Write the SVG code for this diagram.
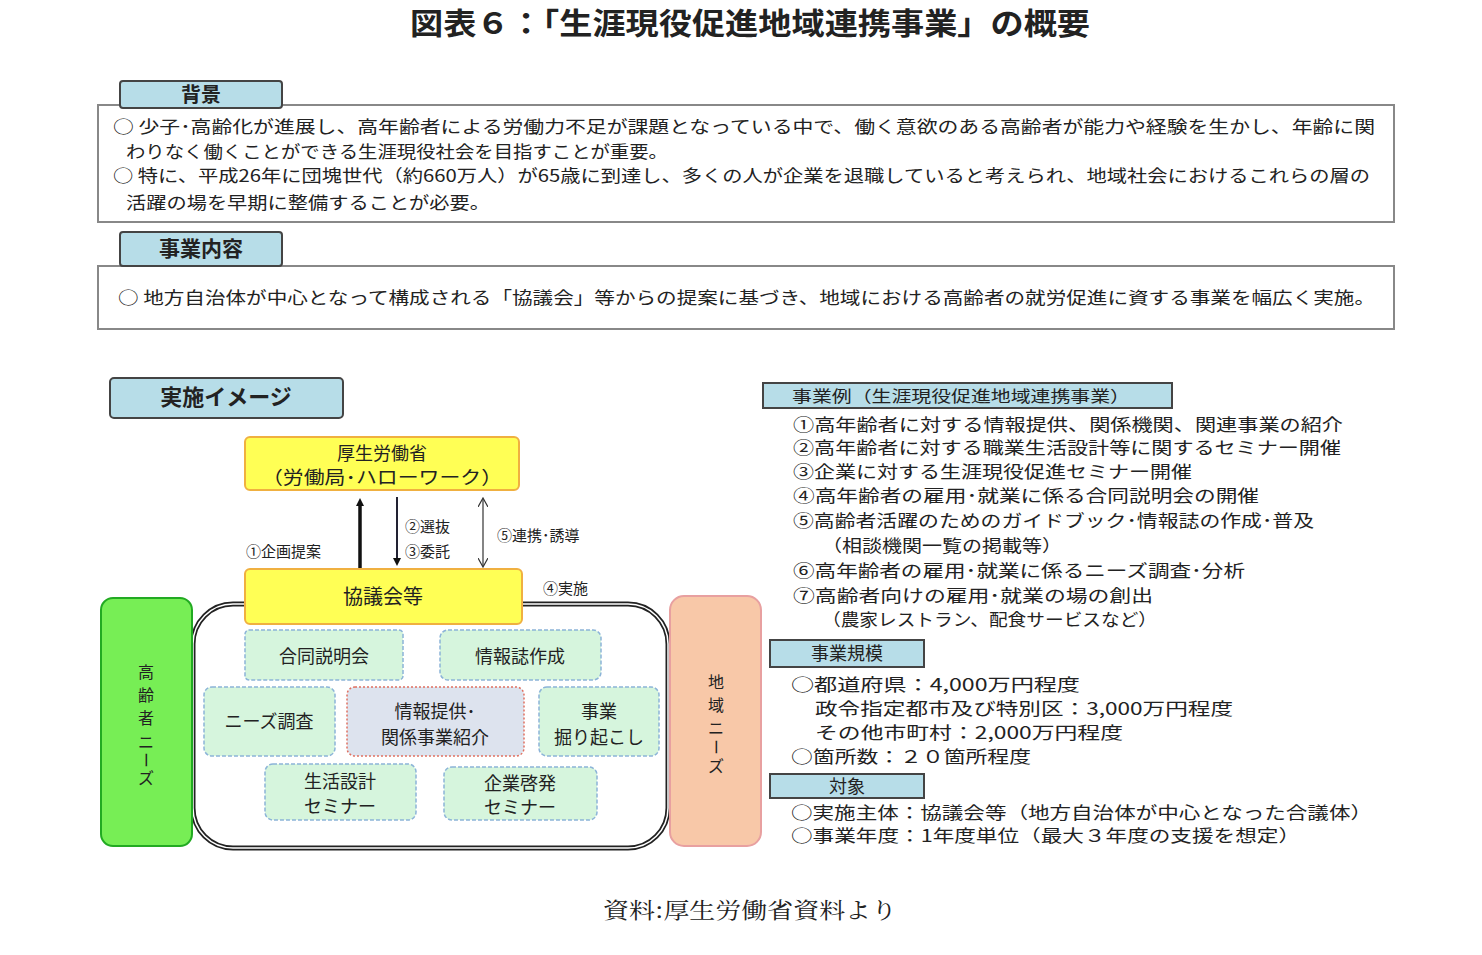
<svg xmlns="http://www.w3.org/2000/svg" width="1482" height="955" viewBox="0 0 1482 955">
<style>
text{font-family:"Noto Sans CJK JP","Liberation Sans",sans-serif;fill:#222}
.tab{fill:#b7dde8;stroke:#444;stroke-width:2}
.frame{fill:#fff;stroke:#888;stroke-width:2}
.t{font-size:17px}
.r{font-size:18px}
.q{font-size:17px}
.yel{fill:#ffff55;stroke:#f0b040;stroke-width:2}
.gb{fill:#d6f5dd;stroke:#8cb4d8;stroke-width:1.5;stroke-dasharray:4 2}
.c{text-anchor:middle}
</style>
<defs>
<marker id="ah" markerWidth="8" markerHeight="8" refX="4" refY="4" orient="auto" markerUnits="userSpaceOnUse"><path d="M0,0L8,4L0,8z" fill="#111"/></marker>
<marker id="ao" markerWidth="10" markerHeight="10" refX="8" refY="5" orient="auto-start-reverse" markerUnits="userSpaceOnUse"><path d="M0,0L9,5L0,10" fill="none" stroke="#333" stroke-width="1.2"/></marker>
</defs>
<text x="750" y="34" class="c" font-size="30" font-weight="bold" textLength="680" lengthAdjust="spacingAndGlyphs">図表６：「生涯現役促進地域連携事業」の概要</text>

<g id="bg">
<rect x="98" y="105" width="1296" height="117" class="frame"/>
<rect x="120" y="81" width="162" height="27" rx="3" class="tab"/>
<text x="201" y="102" class="c" font-size="20" font-weight="bold">背景</text>
<text x="113" y="133" class="t" textLength="1262" lengthAdjust="spacingAndGlyphs">○  少子･高齢化が進展し、高年齢者による労働力不足が課題となっている中で、働く意欲のある高齢者が能力や経験を生かし、年齢に関</text>
<text x="126" y="158" class="t" textLength="542" lengthAdjust="spacingAndGlyphs">わりなく働くことができる生涯現役社会を目指すことが重要。</text>
<text x="113" y="182" class="t" textLength="1257" lengthAdjust="spacingAndGlyphs">○  特に、平成26年に団塊世代（約660万人）が65歳に到達し、多くの人が企業を退職していると考えられ、地域社会におけるこれらの層の</text>
<text x="126" y="209" class="t" textLength="364" lengthAdjust="spacingAndGlyphs">活躍の場を早期に整備することが必要。</text>
</g>
<g id="content">
<rect x="98" y="266" width="1296" height="63" class="frame"/>
<rect x="120" y="232" width="162" height="34" rx="3" class="tab"/>
<text x="201" y="256" class="c" font-size="21" font-weight="bold">事業内容</text>
<text x="118" y="304" class="t" textLength="1257" lengthAdjust="spacingAndGlyphs">○  地方自治体が中心となって構成される「協議会」等からの提案に基づき、地域における高齢者の就労促進に資する事業を幅広く実施。</text>
</g>

<g id="image-tab">
<rect x="110" y="378" width="233" height="40" rx="4" class="tab"/>
<text x="226" y="405" class="c" font-size="22" font-weight="bold">実施イメージ</text>
</g>

<g id="kaigi-frame">
<rect x="193" y="604" width="475" height="244" rx="40" fill="#fff" stroke="#222" stroke-width="5"/>
<rect x="193" y="604" width="475" height="244" rx="40" fill="none" stroke="#fff" stroke-width="1.5"/>
</g>
<g id="mhlw">
<rect x="245" y="437" width="274" height="53" rx="5" class="yel"/>
<text x="382" y="460" class="c r">厚生労働省</text>
<text x="382" y="484" class="c r" textLength="240" lengthAdjust="spacingAndGlyphs">（労働局･ハローワーク）</text>
</g>
<g id="kyogikai">
<rect x="245" y="569" width="277" height="55" rx="5" class="yel"/>
<text x="383" y="604" class="c" font-size="20">協議会等</text>
</g>
<g id="connectors">
<line x1="360" y1="568" x2="360" y2="502" stroke="#111" stroke-width="3.5" marker-end="url(#ah)"/>
<line x1="397" y1="497" x2="397" y2="562" stroke="#223" stroke-width="2" marker-end="url(#ah)"/>
<line x1="483" y1="499" x2="483" y2="566" stroke="#333" stroke-width="1.2" marker-end="url(#ao)" marker-start="url(#ao)"/>
<text x="246" y="557" font-size="15">①企画提案</text>
<text x="405" y="532" font-size="15">②選抜</text>
<text x="405" y="557" font-size="15">③委託</text>
<text x="497" y="541" font-size="15">⑤連携･誘導</text>
<text x="543" y="594" font-size="15">④実施</text>
</g>
<g id="elder">
<rect x="101" y="598" width="91" height="248" rx="12" fill="#77ee55" stroke="#22aa22" stroke-width="2"/>
<text x="146" y="678" class="c" font-size="16">高</text><text x="146" y="701" class="c" font-size="16">齢</text><text x="146" y="724" class="c" font-size="16">者</text><text x="146" y="748" class="c" font-size="16">ニ</text><text x="146" y="766" class="c" font-size="16" transform="rotate(90 146 760)">ー</text><text x="146" y="784" class="c" font-size="16">ズ</text>
</g>
<g id="region">
<rect x="670" y="596" width="91" height="250" rx="14" fill="#f8c8a8" stroke="#e8a0a0" stroke-width="2"/>
<text x="716" y="688" class="c" font-size="16">地</text><text x="716" y="711" class="c" font-size="16">域</text><text x="716" y="734" class="c" font-size="16">ニ</text><text x="716" y="753" class="c" font-size="16" transform="rotate(90 716 747)">ー</text><text x="716" y="772" class="c" font-size="16">ズ</text>
</g>
<g id="b1"><rect x="245" y="630" width="158" height="50" rx="4" class="gb"/><text x="324" y="663" class="c r">合同説明会</text></g>
<g id="b2"><rect x="440" y="630" width="161" height="50" rx="8" class="gb"/><text x="520" y="663" class="c r">情報誌作成</text></g>
<g id="b3"><rect x="204" y="687" width="131" height="69" rx="8" class="gb"/><text x="269" y="728" class="c r">ニーズ調査</text></g>
<g id="b4"><rect x="347" y="687" width="177" height="69" rx="8" fill="#dde3ee" stroke="#e07060" stroke-width="1.5" stroke-dasharray="2 2"/><text x="435" y="718" class="c r">情報提供･</text><text x="435" y="744" class="c r">関係事業紹介</text></g>
<g id="b5"><rect x="539" y="687" width="120" height="69" rx="8" class="gb"/><text x="599" y="718" class="c r">事業</text><text x="599" y="744" class="c r">掘り起こし</text></g>
<g id="b6"><rect x="265" y="764" width="151" height="56" rx="8" class="gb"/><text x="340" y="788" class="c r">生活設計</text><text x="340" y="813" class="c r">セミナー</text></g>
<g id="b7"><rect x="444" y="767" width="153" height="53" rx="8" class="gb"/><text x="520" y="790" class="c r">企業啓発</text><text x="520" y="814" class="c r">セミナー</text></g>

<g id="examples">
<rect x="763" y="383" width="409" height="25" class="tab"/>
<text x="792" y="402" font-size="16" textLength="338" lengthAdjust="spacingAndGlyphs">事業例（生涯現役促進地域連携事業）</text>
<text x="793" y="431" class="q" textLength="550" lengthAdjust="spacingAndGlyphs">①高年齢者に対する情報提供、関係機関、関連事業の紹介</text>
<text x="793" y="454" class="q" textLength="548" lengthAdjust="spacingAndGlyphs">②高年齢者に対する職業生活設計等に関するセミナー開催</text>
<text x="793" y="478" class="q" textLength="399" lengthAdjust="spacingAndGlyphs">③企業に対する生涯現役促進セミナー開催</text>
<text x="793" y="502" class="q" textLength="466" lengthAdjust="spacingAndGlyphs">④高年齢者の雇用･就業に係る合同説明会の開催</text>
<text x="793" y="527" class="q" textLength="521" lengthAdjust="spacingAndGlyphs">⑤高齢者活躍のためのガイドブック･情報誌の作成･普及</text>
<text x="822" y="552" class="q" textLength="240" lengthAdjust="spacingAndGlyphs">（相談機関一覧の掲載等）</text>
<text x="793" y="577" class="q" textLength="452" lengthAdjust="spacingAndGlyphs">⑥高年齢者の雇用･就業に係るニーズ調査･分析</text>
<text x="793" y="602" class="q" textLength="360" lengthAdjust="spacingAndGlyphs">⑦高齢者向けの雇用･就業の場の創出</text>
<text x="822" y="626" class="q" textLength="335" lengthAdjust="spacingAndGlyphs">（農家レストラン、配食サービスなど）</text>
</g>
<g id="scale">
<rect x="770" y="640" width="154" height="27" class="tab"/>
<text x="847" y="660" class="c r">事業規模</text>
<text x="791" y="691" class="q" textLength="289" lengthAdjust="spacingAndGlyphs">○都道府県：4,000万円程度</text>
<text x="815" y="715" class="q" textLength="418" lengthAdjust="spacingAndGlyphs">政令指定都市及び特別区：3,000万円程度</text>
<text x="815" y="739" class="q" textLength="308" lengthAdjust="spacingAndGlyphs">その他市町村：2,000万円程度</text>
<text x="791" y="763" class="q" textLength="240" lengthAdjust="spacingAndGlyphs">○箇所数：２０箇所程度</text>
</g>
<g id="target">
<rect x="770" y="774" width="154" height="24" class="tab"/>
<text x="847" y="793" class="c r">対象</text>
<text x="791" y="819" class="q" textLength="581" lengthAdjust="spacingAndGlyphs">○実施主体：協議会等（地方自治体が中心となった合議体）</text>
<text x="791" y="842" class="q" textLength="509" lengthAdjust="spacingAndGlyphs">○事業年度：1年度単位（最大３年度の支援を想定）</text>
</g>
<text x="750" y="918" class="c" font-size="22" textLength="294" lengthAdjust="spacingAndGlyphs" style="font-family:'Noto Serif CJK JP','Liberation Serif',serif">資料:厚生労働省資料より</text>
</svg>
